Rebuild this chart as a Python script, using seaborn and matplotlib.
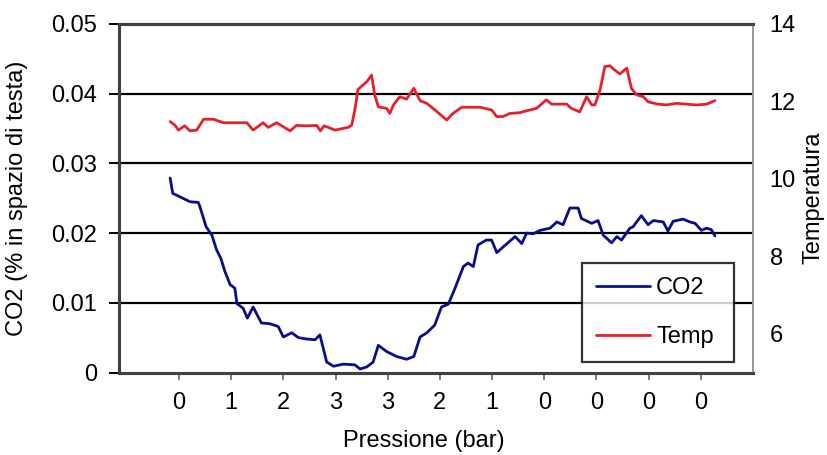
import numpy as np
import pandas as pd
import seaborn as sns
import matplotlib
matplotlib.use('Agg')
import matplotlib.pyplot as plt

# x position in units of the category ticks (0..10)
co2_x = [-0.17, -0.12, 0.02, 0.21, 0.37, 0.40, 0.52, 0.63, 0.72, 0.80, 0.88, 0.98,
         1.07, 1.11, 1.23, 1.31, 1.42, 1.58, 1.74, 1.90, 2.00, 2.16, 2.29, 2.45,
         2.61, 2.70, 2.83, 2.96, 3.15, 3.37, 3.47, 3.60, 3.72, 3.82, 3.98, 4.17,
         4.36, 4.50, 4.62, 4.75, 4.90, 5.03, 5.16, 5.29, 5.45, 5.54, 5.64, 5.73,
         5.89, 5.99, 6.09, 6.21, 6.44, 6.57, 6.66, 6.79, 6.92, 7.11, 7.24, 7.36,
         7.49, 7.65, 7.71, 7.91, 8.03, 8.13, 8.29, 8.39, 8.48, 8.64, 8.70, 8.86,
         8.99, 9.09, 9.28, 9.37, 9.47, 9.66, 9.79, 9.89, 10.01, 10.11, 10.20, 10.27]
co2 = [0.0279, 0.0257, 0.0252, 0.0245, 0.0244, 0.0238, 0.0209, 0.0197, 0.0176, 0.0164,
       0.0145, 0.0126, 0.0121, 0.0099, 0.0092, 0.0078, 0.0094, 0.0071, 0.0070, 0.0066,
       0.0051, 0.0057, 0.0050, 0.0048, 0.0047, 0.0054, 0.0015, 0.0009, 0.0012, 0.0011,
       0.0005, 0.0008, 0.0015, 0.0039, 0.0030, 0.0023, 0.0019, 0.0023, 0.0051, 0.0057,
       0.0068, 0.0094, 0.0098, 0.0121, 0.0152, 0.0157, 0.0152, 0.0183, 0.0190, 0.0190,
       0.0172, 0.0180, 0.0195, 0.0185, 0.0200, 0.0199, 0.0204, 0.0207, 0.0216, 0.0212,
       0.0236, 0.0236, 0.0221, 0.0214, 0.0218, 0.0197, 0.0186, 0.0195, 0.0190, 0.0207,
       0.0209, 0.0225, 0.0212, 0.0218, 0.0216, 0.0203, 0.0217, 0.0220, 0.0216, 0.0214,
       0.0204, 0.0207, 0.0205, 0.0196]

temp_x = [-0.17, -0.08, -0.01, 0.11, 0.21, 0.34, 0.47, 0.66, 0.85, 1.11, 1.30, 1.42,
          1.61, 1.71, 1.87, 2.13, 2.25, 2.45, 2.64, 2.71, 2.78, 2.99, 3.24, 3.31,
          3.37, 3.43, 3.60, 3.69, 3.75, 3.82, 3.98, 4.04, 4.11, 4.23, 4.36, 4.50,
          4.62, 4.75, 4.87, 5.13, 5.25, 5.42, 5.77, 5.99, 6.09, 6.21, 6.34, 6.53,
          6.72, 6.85, 7.04, 7.14, 7.43, 7.52, 7.68, 7.81, 7.91, 7.97, 8.07, 8.16,
          8.26, 8.35, 8.45, 8.58, 8.67, 8.77, 8.90, 8.99, 9.18, 9.34, 9.53, 9.73,
          9.92, 10.11, 10.27]
temp = [11.48, 11.39, 11.26, 11.37, 11.24, 11.26, 11.54, 11.54, 11.45, 11.45, 11.45, 11.26,
        11.45, 11.33, 11.45, 11.24, 11.38, 11.37, 11.38, 11.24, 11.37, 11.26, 11.33, 11.39,
        11.78, 12.31, 12.51, 12.68, 12.17, 11.86, 11.82, 11.69, 11.91, 12.12, 12.06, 12.34,
        12.02, 11.95, 11.82, 11.52, 11.69, 11.85, 11.85, 11.78, 11.61, 11.61, 11.69, 11.71,
        11.78, 11.82, 12.04, 11.93, 11.93, 11.82, 11.73, 12.12, 11.91, 11.91, 12.30, 12.90,
        12.92, 12.81, 12.71, 12.86, 12.34, 12.17, 12.12, 11.99, 11.93, 11.91, 11.95, 11.93,
        11.91, 11.93, 12.02]

pressure_labels = ['0', '1', '2', '3', '3', '2', '1', '0', '0', '0', '0']
co2_ticks = [0, 0.01, 0.02, 0.03, 0.04, 0.05]
temp_ticks = [6, 8, 10, 12, 14]

sns.set_style('white')
plt.rcParams['font.family'] = ['Liberation Sans', 'DejaVu Sans']
plt.rcParams['text.color'] = 'black'
plt.rcParams['axes.labelcolor'] = 'black'
plt.rcParams['xtick.labelcolor'] = 'black'
plt.rcParams['ytick.labelcolor'] = 'black'

fig = plt.figure(figsize=(8.28, 4.55), dpi=100)
ax = fig.add_axes([119/828, 1 - 372.5/455, 634/828, 348.5/455])
ax2 = ax.twinx()

df_co2 = pd.DataFrame({'x': co2_x, 'CO2': co2})
df_temp = pd.DataFrame({'x': temp_x, 'Temp': temp})
sns.lineplot(data=df_co2, x='x', y='CO2', ax=ax, color='#0c0c8a', lw=2,
             label='CO2', sort=False, estimator=None)
sns.lineplot(data=df_temp, x='x', y='Temp', ax=ax2, color='#e6202a', lw=2,
             label='Temp', sort=False, estimator=None)

ax.set_xlim(-1.15, 11.0)
ax.set_ylim(0, 0.05)
ax2.set_ylim(5, 14)

for v in co2_ticks[1:-1]:
    ax.axhline(v, color='black', lw=1.6, zorder=0.5)

ax.set_yticks(co2_ticks)
ax.set_yticklabels(['0', '0.01', '0.02', '0.03', '0.04', '0.05'])
ax.set_xticks(range(len(pressure_labels)))
ax.set_xticklabels(pressure_labels)
ax2.set_yticks(temp_ticks)

ax.tick_params(axis='y', left=True, length=7, width=1.4, color='black', pad=9,
               labelsize=17, labelcolor='black')
ax.tick_params(axis='x', bottom=True, length=5, width=1.2, color='#666666', pad=9,
               labelsize=17, labelcolor='black')
ax2.tick_params(axis='y', right=True, length=0, pad=12, labelsize=17,
                labelcolor='black')

ax.set_xlabel('Pressione (bar)', fontsize=17, color='black')
ax.xaxis.set_label_coords(0.48, -0.165)
ax.set_ylabel('CO2 (% in spazio di testa)', fontsize=17, color='black')
ax.yaxis.set_label_coords(-0.144, 0.5)
ax2.set_ylabel('Temperatura', fontsize=17, color='black')
ax2.yaxis.set_label_coords(1.078, 0.5)

for a in (ax, ax2):
    for s in ('left', 'top', 'bottom'):
        a.spines[s].set_color('#404040')
        a.spines[s].set_linewidth(2.2)
    a.spines['right'].set_color('#9a9a9a')
    a.spines['right'].set_linewidth(1.4)

h1, l1 = ax.get_legend_handles_labels()
h2, l2 = ax2.get_legend_handles_labels()
ax.get_legend().remove()
ax2.get_legend().remove()
leg = ax2.legend(h1 + h2, l1 + l2, loc='lower left',
                 bbox_to_anchor=(581.7/828, 1 - 362.3/455, 152.6/828, 105.6/455),
                 bbox_transform=fig.transFigure, mode='expand', fontsize=17,
                 frameon=True, fancybox=False, borderpad=0.6, labelspacing=1.15,
                 handlelength=2.3, handletextpad=0.25, borderaxespad=0)
leg.get_frame().set_edgecolor('black')
leg.get_frame().set_linewidth(1.6)
for line in leg.get_lines():
    line.set_linewidth(2)

fig.savefig('out.png', dpi=100)
